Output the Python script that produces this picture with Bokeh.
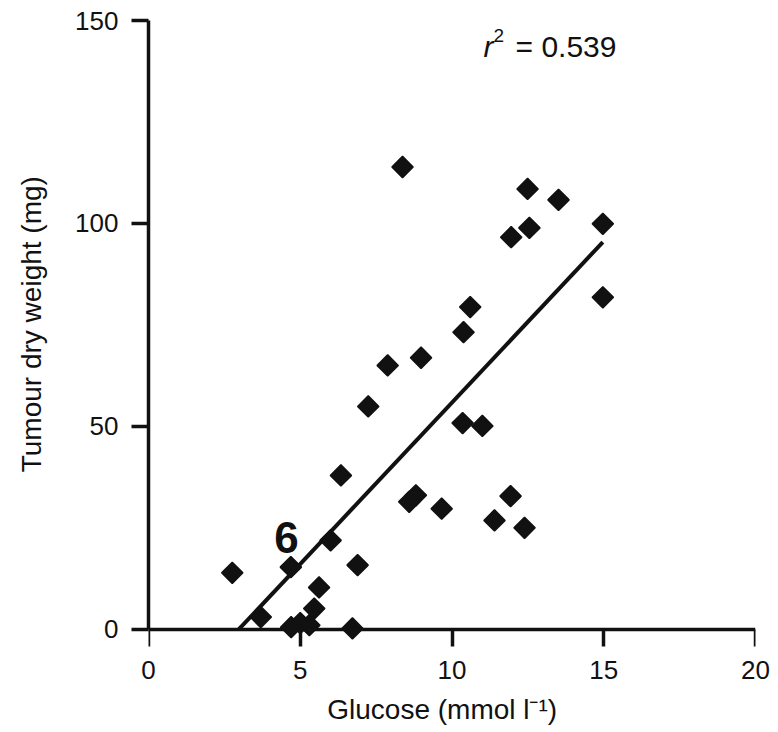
import numpy as np
from bokeh.plotting import figure
from bokeh.models import Range1d, FixedTicker, Label, LinearAxis
from bokeh.embed import file_html
from bokeh.resources import INLINE

# Data
glucose = [2.76, 3.70, 4.69, 4.70, 5.00, 5.30, 5.46, 5.62, 6.00, 6.34, 6.72, 6.89,
           7.24, 7.88, 8.37, 8.59, 8.81, 8.98, 9.66, 10.35, 10.38, 10.60, 11.00,
           11.40, 11.93, 11.95, 12.39, 12.49, 12.55, 13.51, 14.97, 14.97]
weight = [13.9, 3.0, 15.3, 0.5, 1.5, 1.0, 5.1, 10.3, 21.9, 37.9, 0.2, 15.8,
          54.9, 65.0, 113.9, 31.4, 33.0, 66.9, 29.7, 50.8, 73.2, 79.4, 50.1,
          26.8, 32.8, 96.6, 25.0, 108.5, 98.9, 105.8, 99.9, 81.8]
fit_x = [2.98, 14.97]
fit_y = [0.0, 95.4]
x_ticks = [0, 5, 10, 15, 20]
y_ticks = [0, 50, 100, 150]
r2_value = "0.539"
x_title = "Glucose (mmol l\u207b\u00b9)"
y_title = "Tumour dry weight (mg)"
stray_mark = (4.55, 22.7, "6")
r2_pos = (11.04, 143.6)

FONT = "Liberation Sans"
INK = "#111111"

W, H = 776, 732
p = figure(width=W, height=H, output_backend="svg", toolbar_location=None,
           x_range=Range1d(0, 20), y_range=Range1d(-4.5, 150),
           min_border_left=148, min_border_right=21, min_border_top=20,
           min_border_bottom=85)
p.outline_line_color = None
p.xgrid.visible = False
p.ygrid.visible = False
p.background_fill_color = "white"
p.border_fill_color = "white"

# bottom axis: tick labels and title (at frame bottom)
xb = p.xaxis[0]
xb.ticker = FixedTicker(ticks=x_ticks)
xb.axis_line_color = None
xb.major_tick_line_color = None
xb.minor_tick_line_color = None
xb.major_tick_in = 0
xb.major_tick_out = 0
xb.major_label_standoff = 13
xb.major_label_text_font = FONT
xb.major_label_text_font_size = "26px"
xb.major_label_text_color = INK
xb.axis_label = x_title + "\u2002\u2009"
xb.axis_label_text_font = FONT
xb.axis_label_text_font_size = "28px"
xb.axis_label_text_font_style = "normal"
xb.axis_label_text_color = INK
xb.axis_label_standoff = 12

# axis line + ticks drawn at y = 0
x0 = LinearAxis(ticker=FixedTicker(ticks=x_ticks), fixed_location=0, bounds=(0, 20),
                axis_line_width=3.5, axis_line_color=INK,
                major_tick_line_width=3.5, major_tick_line_color=INK,
                major_tick_in=17, major_tick_out=0, minor_tick_line_color=None,
                major_label_standoff=0, major_label_text_font_size="1px",
                major_label_text_color=None)
p.add_layout(x0, "above")

ya = p.yaxis[0]
ya.ticker = FixedTicker(ticks=y_ticks)
ya.bounds = (0, 150)
ya.axis_line_width = 3.5
ya.axis_line_color = INK
ya.major_tick_line_width = 3.5
ya.major_tick_line_color = INK
ya.major_tick_in = 0
ya.major_tick_out = 17
ya.minor_tick_line_color = None
ya.major_label_standoff = 13
ya.major_label_text_font = FONT
ya.major_label_text_font_size = "26px"
ya.major_label_text_color = INK
ya.axis_label = "\u2002\u2009" + y_title
ya.axis_label_text_font = FONT
ya.axis_label_text_font_size = "28px"
ya.axis_label_text_font_style = "normal"
ya.axis_label_text_color = INK
ya.axis_label_standoff = 25

p.line(fit_x, fit_y, line_width=4, line_color=INK)
p.scatter(glucose, weight, marker="square", size=15, angle=np.pi / 4,
          fill_color=INK, line_color=INK, line_width=1.5)

p.add_layout(Label(x=stray_mark[0], y=stray_mark[1], text=stray_mark[2],
                   text_font=FONT, text_font_size="44px", text_font_style="bold",
                   text_color=INK, text_align="center", text_baseline="middle"))
p.add_layout(Label(x=r2_pos[0], y=r2_pos[1], text="r", text_font=FONT,
                   text_font_size="30px", text_font_style="italic", text_color=INK,
                   text_baseline="middle"))
p.add_layout(Label(x=r2_pos[0], y=r2_pos[1], x_offset=10, y_offset=11, text="2",
                   text_font=FONT, text_font_size="19px", text_color=INK,
                   text_baseline="middle"))
p.add_layout(Label(x=r2_pos[0], y=r2_pos[1], x_offset=32, text="= " + r2_value,
                   text_font=FONT, text_font_size="30px", text_color=INK,
                   text_baseline="middle"))

open("out.html", "w").write(file_html(p, INLINE))
